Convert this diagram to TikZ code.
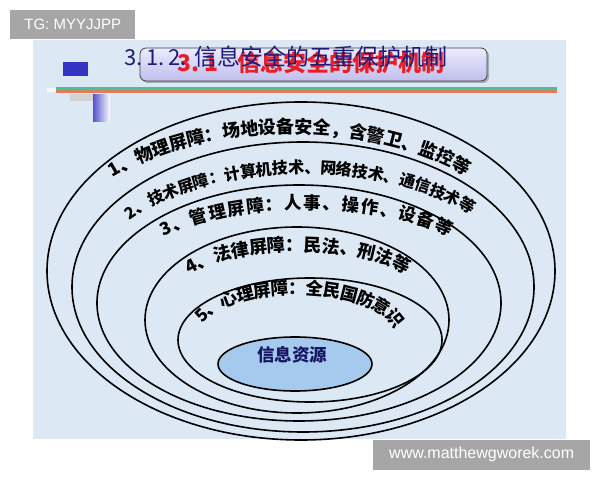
\documentclass[tikz,border=0pt]{standalone}
\usepackage{fontspec}
\setmainfont{Liberation Sans}
\newfontfamily\cjk{Noto Sans CJK SC}
\usetikzlibrary{decorations.text,shadows}

\definecolor{slidebg}{RGB}{220,232,243}
\definecolor{markblue}{RGB}{52,52,196}
\definecolor{bargreen}{RGB}{64,196,156}
\definecolor{barorange}{RGB}{222,124,92}
\definecolor{titleblue}{RGB}{28,28,124}
\definecolor{titlered}{RGB}{232,30,40}
\definecolor{coreblue}{RGB}{166,202,238}
\definecolor{wmgray}{RGB}{166,166,166}

\newcommand\lbl[1]{\cjk\bfseries\fontsize{#1}{#1}\selectfont}

\tikzset{
  ring/.style={line width=1.6pt},
  wmark/.style={fill=wmgray, text=white, inner sep=0pt, anchor=south west},
  arclabel/.style n args={2}{decorate, decoration={text along path,
      text align={fit to path}, raise=-6.5pt, text={|\lbl{#1}|#2}}}
}

\begin{document}
\begin{tikzpicture}[x=1pt,y=1pt]
    \useasboundingbox (0,0) rectangle (600,480);
    \fill[white] (0,0) rectangle (600,480);

    % slide
    \fill[slidebg] (33,41) rectangle (566,440);
    \fill[markblue] (63,404) rectangle (88,418);
    \fill[white!70!slidebg] (47,388) rectangle (56,392);
    \fill[bargreen] (56,389.5) rectangle (557,393);
    \fill[barorange] (56,387) rectangle (557,389.5);
    \fill[gray!35] (70,379) rectangle (93,386);
    \shade[left color=markblue!85, right color=white] (93,358) rectangle (110,385);

    % title
    \draw[rounded corners=6pt, line width=0.8pt, draw=black!75,
          top color=white!92!blue, bottom color=black!30!blue!25,
          drop shadow={shadow xshift=2pt, shadow yshift=-2pt, fill=black!55}]
          (140,399) rectangle (487,432);
    \node[anchor=base west, inner sep=0pt, text=titlered] (rednum) at (177,408)
        {\lbl{23}3.\ 1};
    \node[anchor=base west, inner sep=0pt, text=titlered] (redtitle) at (237,408)
        {\lbl{23}信息安全的保护机制};
    \node[anchor=base west, inner sep=0pt, text=titleblue] (bluenum) at (124,414)
        {\cjk\fontsize{22}{22}\selectfont 3.\,1.\,2.};
    \node[anchor=base west, inner sep=0pt, text=titleblue] (bluetitle) at (194,414)
        {\cjk\fontsize{23}{23}\selectfont 信息安全的五重保护机制};

    % rings
    \draw[ring] (301,209) ellipse [x radius=254, y radius=169];
    \draw[ring] (303,193) ellipse [x radius=231, y radius=145];
    \draw[ring] (299,177) ellipse [x radius=202, y radius=118];
    \draw[ring] (297,160) ellipse [x radius=152, y radius=93];
    \draw[ring] (310,140) ellipse [x radius=132, y radius=62];
    \draw[ring, fill=coreblue] (295,116) ellipse [x radius=77, y radius=27];
    \node[text=titleblue!80!black] (core) at (292,125) {\lbl{17.5}信息资源};

    % ring labels
    \path[arclabel={18}{1、物理屏障：场地设备安全，含警卫、监控等}]
        (291,209) ++(136.5:250 and 144) arc[start angle=136.5, end angle=44.5, x radius=250, y radius=144];
    \path[arclabel={16}{2、技术屏障：计算机技术、网络技术、通信技术等}]
        (304.5,193) ++(143:223 and 120) arc[start angle=143, end angle=40.5, x radius=223, y radius=120];
    \path[arclabel={17.5}{3、管理屏障：人事、操作、设备等}]
        (307,202) ++(141:188 and 75) arc[start angle=141, end angle=39.5, x radius=188, y radius=75];
    \path[arclabel={18}{4、法律屏障：民法、刑法等}]
        (298,185) ++(148:131 and 50) arc[start angle=148, end angle=32, x radius=131, y radius=50];
    \path[arclabel={17.5}{5、心理屏障：全民国防意识}]
        (297,147) ++(162:104 and 45) arc[start angle=162, end angle=17, x radius=104, y radius=45];

    % watermarks
    \node[wmark, minimum width=125, minimum height=29] (tg) at (10,441)
        {\fontsize{15}{15}\selectfont TG: MYYJJPP};
    \node[wmark, minimum width=217, minimum height=30] (site) at (373,10)
        {\fontsize{16}{16}\selectfont www.matthewgworek.com};
\end{tikzpicture}
\end{document}
